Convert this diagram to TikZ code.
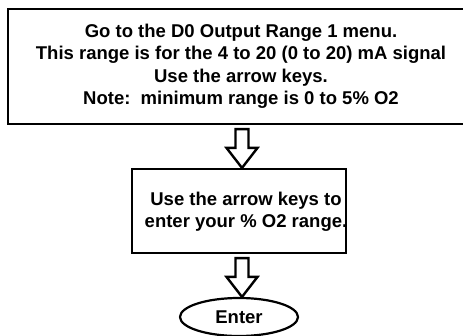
\documentclass[tikz,border=0pt]{standalone}
\usepackage{fontspec}
\setmainfont{Liberation Sans}
\usetikzlibrary{positioning, calc, shapes.geometric}
\tikzset{
  stepbox/.style={draw=black, line width=2.2pt, fill=white, align=center,
                  inner sep=0pt, font=\bfseries\fontsize{18.5}{22.5}\selectfont},
  steptext/.style={align=center, inner sep=0pt,
                  font=\bfseries\fontsize{18.5}{22.5}\selectfont},
  endoval/.style={draw=black, line width=2.2pt, ellipse, inner sep=0pt,
                  minimum width=118pt, minimum height=38pt,
                  font=\bfseries\fontsize{18.5}{22.5}\selectfont},
  fatarrow/.style={draw=black, line width=2.4pt, fill=white, line join=miter},
}
\newcommand{\fatdown}[2]{%
  \coordinate (tip) at ($(#2.north)+(3,0)$);
  \draw[fatarrow] ($(#1.south -| tip)+(-6.5,-4)$) -- ($(tip)+(-6.5,20)$)
    -- ($(tip)+(-15.5,20)$) -- (tip) -- ($(tip)+(15.5,20)$)
    -- ($(tip)+(6.5,20)$) -- ($(#1.south -| tip)+(6.5,-4)$) -- cycle;}

\begin{document}
\begin{tikzpicture}[x=1pt, y=1pt]
  \useasboundingbox (0,0) rectangle (463,335);
  \node[stepbox, minimum width=466pt, minimum height=115pt] (menu) at (241,268.5)
    {Go to the D0 Output Range 1 menu.\\
     This range is for the 4 to 20 (0 to 20) mA signal\\
     Use the arrow keys.\\
     Note:\ \ minimum range is 0 to 5\% O2};
  \node[stepbox, minimum width=214pt, minimum height=84pt] (range) at (239,124) {};
  \node[steptext] (rangetxt) at (246,123)
    {Use the arrow keys to\\ enter your \% O2 range.};
  \node[endoval] (enter) at (239,18) {Enter};
  \fatdown{menu}{range}
  \fatdown{range}{enter}
\end{tikzpicture}
\end{document}
